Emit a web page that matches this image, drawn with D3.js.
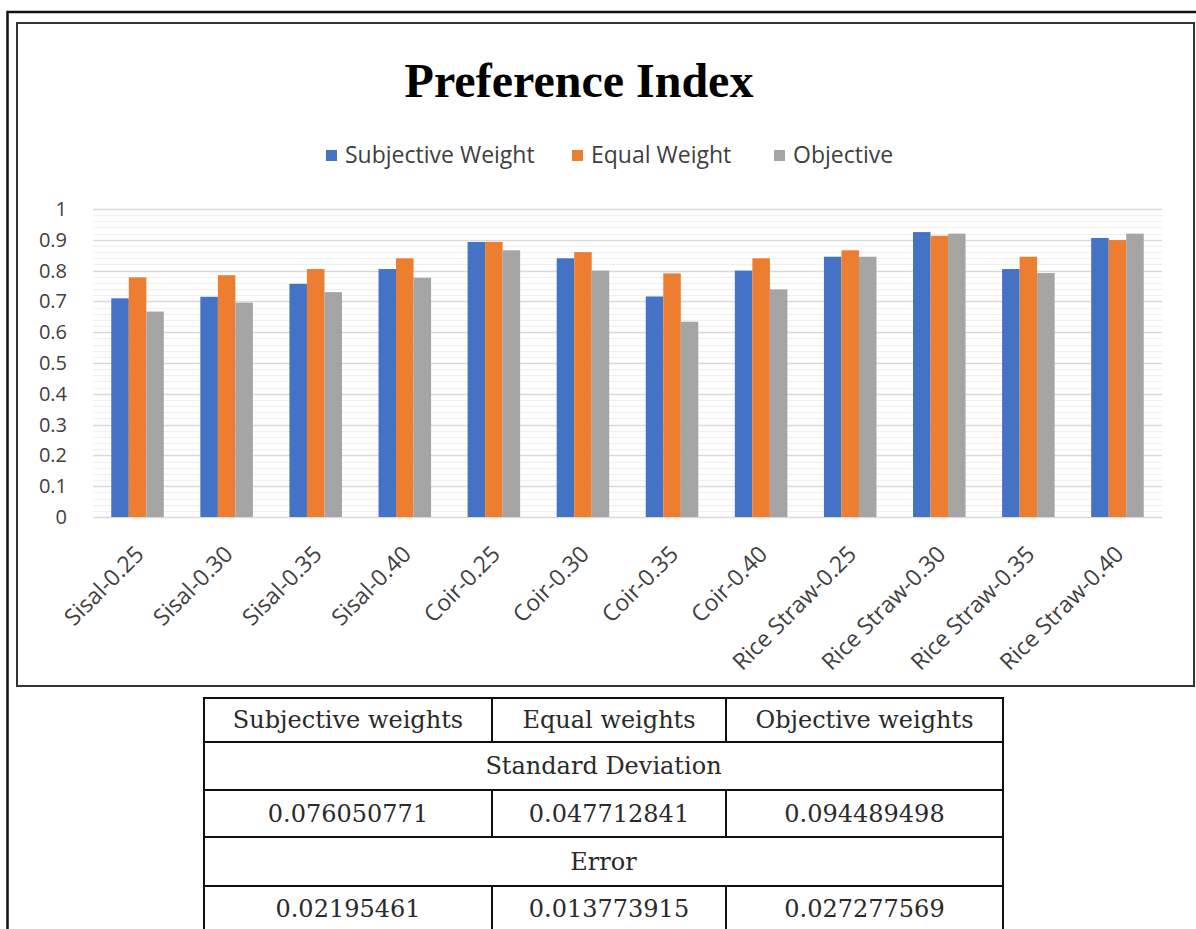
<!DOCTYPE html>
<html><head><meta charset="utf-8">
<script src="https://cdn.jsdelivr.net/npm/d3@7"></script>
<style>
html,body{margin:0;padding:0;background:#fff;}
svg{display:block;}
</style></head>
<body>
<svg id="c" width="1196" height="929"></svg>
<script>
const categories = ["Sisal-0.25","Sisal-0.30","Sisal-0.35","Sisal-0.40","Coir-0.25","Coir-0.30","Coir-0.35","Coir-0.40","Rice Straw-0.25","Rice Straw-0.30","Rice Straw-0.35","Rice Straw-0.40"];
const seriesNames = ["Subjective Weight","Equal Weight","Objective"];
const subjective = [0.71,0.715,0.757,0.805,0.893,0.84,0.716,0.80,0.845,0.925,0.805,0.906];
const equal = [0.778,0.785,0.805,0.84,0.893,0.86,0.791,0.84,0.866,0.913,0.845,0.899];
const objective = [0.667,0.696,0.73,0.777,0.866,0.80,0.634,0.739,0.845,0.92,0.792,0.92];
const yTicks = [0,0.1,0.2,0.3,0.4,0.5,0.6,0.7,0.8,0.9,1];
const yTickLabels = ["0","0.1","0.2","0.3","0.4","0.5","0.6","0.7","0.8","0.9","1"];
const tableHeader = ["Subjective weights","Equal weights","Objective weights"];
const stdLabel = "Standard Deviation";
const stdValues = ["0.076050771","0.047712841","0.094489498"];
const errLabel = "Error";
const errValues = ["0.02195461","0.013773915","0.027277569"];
const title = "Preference Index";

const colors = ["#4472C4","#ED7D31","#A5A5A5"];
const seriesData = [subjective, equal, objective];

const svg = d3.select("#c");
svg.append("rect").attr("x",0).attr("y",0).attr("width",1196).attr("height",929).attr("fill","#fff");

// outer frame
svg.append("path").attr("d","M7.5,929 V12 H1196").attr("fill","none").attr("stroke","#111").attr("stroke-width",2.5);
// chart box
svg.append("rect").attr("x",17).attr("y",23).attr("width",1177).attr("height",663)
  .attr("fill","#fff").attr("stroke","#333").attr("stroke-width",2);

// title
svg.append("text").attr("x",579).attr("y",97).attr("text-anchor","middle")
  .attr("font-family","'Liberation Serif', serif").attr("font-weight","bold").attr("font-size",48)
  .attr("fill","#000").text(title);

// legend
const legendX = [326,572,774];
seriesNames.forEach((n,i)=>{
  svg.append("rect").attr("x",legendX[i]).attr("y",150).attr("width",11).attr("height",11).attr("fill",colors[i]);
  svg.append("text").attr("x",legendX[i]+19).attr("y",163).attr("font-family","'Open Sans', sans-serif")
    .attr("font-size",23).attr("fill","#404040").text(n);
});

const x0 = d3.scaleBand().domain(categories).range([93,1162]).paddingInner(0.41).paddingOuter(0.205);
const x1 = d3.scaleBand().domain(seriesNames).range([0,x0.bandwidth()]);
const y = d3.scaleLinear().domain([0,1]).range([517,209]);

// minor gridlines
const minor = d3.range(0,1.0001,0.02);
svg.append("g").selectAll("line").data(minor).join("line")
  .attr("x1",93).attr("x2",1162).attr("y1",d=>Math.round(y(d))+0.5).attr("y2",d=>Math.round(y(d))+0.5)
  .attr("stroke","#efefef").attr("stroke-width",1);
// major gridlines
svg.append("g").selectAll("line").data(yTicks).join("line")
  .attr("x1",93).attr("x2",1162).attr("y1",d=>Math.round(y(d))+0.5).attr("y2",d=>Math.round(y(d))+0.5)
  .attr("stroke","#d9d9d9").attr("stroke-width",1.5);

// y axis labels
const yAxis = d3.axisLeft(y).tickValues(yTicks).tickFormat((d,i)=>yTickLabels[i]).tickSize(0).tickPadding(0);
const ya = svg.append("g").attr("transform","translate(67,0)").call(yAxis);
ya.select(".domain").remove();
ya.selectAll("text").attr("font-family","'Open Sans', sans-serif").attr("font-size",20).attr("fill","#404040");

// bars
const groups = svg.append("g").selectAll("g").data(categories).join("g")
  .attr("transform",d=>`translate(${x0(d)},0)`);
groups.selectAll("rect").data((d,ci)=>seriesNames.map((s,si)=>({s,si,v:seriesData[si][ci]}))).join("rect")
  .attr("x",d=>x1(d.s)).attr("width",x1.bandwidth())
  .attr("y",d=>y(d.v)).attr("height",d=>y(0)-y(d.v))
  .attr("fill",d=>colors[d.si]);

// x labels
const xAxis = d3.axisBottom(x0).tickSize(0).tickPadding(0);
const xa = svg.append("g").attr("transform","translate(0,517)").call(xAxis);
xa.select(".domain").remove();
xa.selectAll("text")
  .attr("font-family","'Open Sans', sans-serif").attr("font-size",23).attr("fill","#404040")
  .attr("text-anchor","end").attr("y",0).attr("dy","0.35em")
  .attr("transform","translate(2,33) rotate(-45)");

// table
const tx = [204,492,726,1003];
const ty = [698,742,790,837,886,931];
const tg = svg.append("g");
const rows = [
  {cells:tableHeader, span:false},
  {cells:[stdLabel], span:true},
  {cells:stdValues, span:false},
  {cells:[errLabel], span:true},
  {cells:errValues, span:false}
];
const tFont = "'DejaVu Serif', serif", tSize = 24;
tg.append("rect").attr("x",tx[0]).attr("y",ty[0]).attr("width",tx[3]-tx[0]).attr("height",ty[5]-ty[0])
  .attr("fill","#fff").attr("stroke","#111").attr("stroke-width",2);
ty.slice(1,5).forEach(v=>{
  tg.append("line").attr("x1",tx[0]).attr("x2",tx[3]).attr("y1",v).attr("y2",v).attr("stroke","#111").attr("stroke-width",2);
});
rows.forEach((r,ri)=>{
  const yc = (ty[ri]+ty[ri+1])/2;
  if(r.span){
    tg.append("text").attr("x",(tx[0]+tx[3])/2).attr("y",yc).attr("dy","0.35em").attr("text-anchor","middle")
      .attr("font-family",tFont).attr("font-size",tSize).attr("fill","#2a2a2a").text(r.cells[0]);
  } else {
    [1,2].forEach(k=>{
      tg.append("line").attr("x1",tx[k]).attr("x2",tx[k]).attr("y1",ty[ri]).attr("y2",ty[ri+1]).attr("stroke","#111").attr("stroke-width",2);
    });
    r.cells.forEach((c,ci)=>{
      tg.append("text").attr("x",(tx[ci]+tx[ci+1])/2).attr("y",yc).attr("dy","0.35em").attr("text-anchor","middle")
        .attr("font-family",tFont).attr("font-size",tSize).attr("fill","#2a2a2a").text(c);
    });
  }
});
</script>
</body></html>
